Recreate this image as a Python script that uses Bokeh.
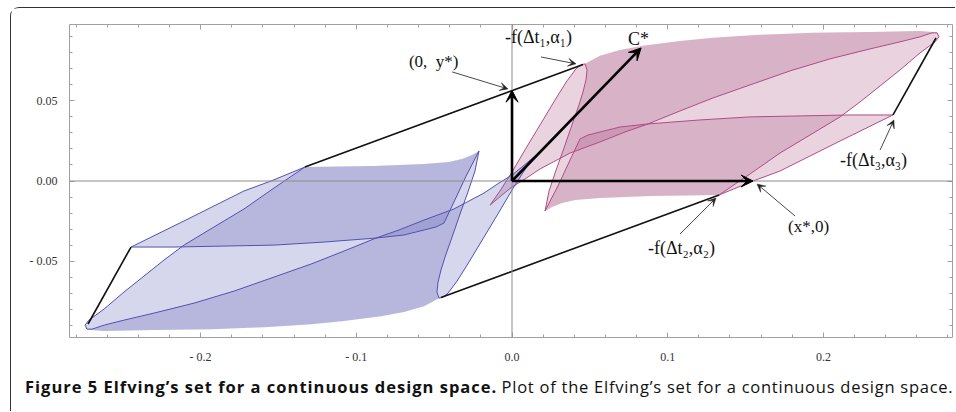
from bokeh.plotting import figure
from bokeh.models import Range1d, FixedTicker, LinearAxis, Label, Arrow, VeeHead, Span, Div
from bokeh.layouts import column
from bokeh.embed import file_html
from bokeh.resources import INLINE

# ---------------- data ----------------
# pink set (-f): small hairpin, outgoing branch T1 -> P1
pa_x = [-0.0141, -0.0077, 0.0000, 0.0083, 0.0180, 0.0276, 0.0353, 0.0411, 0.0443, 0.0469]
pa_y = [-0.0150, -0.0062, 0.0056, 0.0193, 0.0349, 0.0504, 0.0623, 0.0698, 0.0723, 0.0729]
# small hairpin, returning branch P1 -> T2
pb_x = [0.0469, 0.0482, 0.0475, 0.0456, 0.0430, 0.0385, 0.0334, 0.0283, 0.0238, 0.0212]
pb_y = [0.0729, 0.0691, 0.0629, 0.0554, 0.0473, 0.0349, 0.0206, 0.0068, -0.0062, -0.0187]
# big hairpin, outgoing branch T1 -> P3
pu_x = [-0.0141, -0.0064, 0.0000, 0.0083, 0.0180, 0.0373, 0.0565, 0.0726, 0.0873, 0.1079,
        0.1291, 0.1529, 0.1785, 0.2042, 0.2299, 0.2492, 0.2620, 0.2697, 0.2730]
pu_y = [-0.0150, -0.0087, -0.0037, 0.0012, 0.0075, 0.0174, 0.0243, 0.0305, 0.0355, 0.0436,
        0.0517, 0.0598, 0.0685, 0.0760, 0.0822, 0.0866, 0.0897, 0.0922, 0.0922]
# big hairpin, returning branch P3 -> P2
pl_x = [0.2730, 0.2742, 0.2717, 0.2672, 0.2620, 0.2492, 0.2364, 0.2235, 0.2107, 0.1914,
        0.1721, 0.1529, 0.1330]
pl_y = [0.0922, 0.0897, 0.0866, 0.0834, 0.0797, 0.0691, 0.0592, 0.0492, 0.0399, 0.0286,
        0.0174, 0.0044, -0.0087]
# upper envelope P1 -> P3
pt_x = [0.0469, 0.0565, 0.0694, 0.0841, 0.1079, 0.1291, 0.1593, 0.1933, 0.2299, 0.2620, 0.2703]
pt_y = [0.0729, 0.0779, 0.0816, 0.0841, 0.0872, 0.0891, 0.0910, 0.0922, 0.0928, 0.0934, 0.0928]
# lower envelope T2 -> P2
pw_x = [0.0212, 0.0257, 0.0321, 0.0405, 0.0565, 0.0886, 0.1330]
pw_y = [-0.0187, -0.0162, -0.0137, -0.0118, -0.0106, -0.0093, -0.0087]
# edge K -> P4
ph_x = [0.0437, 0.0488, 0.0565, 0.0694, 0.0873, 0.1207, 0.1529, 0.1850, 0.2171, 0.2447]
ph_y = [0.0262, 0.0286, 0.0305, 0.0336, 0.0355, 0.0380, 0.0399, 0.0405, 0.0411, 0.0411]
# edge K -> T2
pk_x = [0.0437, 0.0373, 0.0295, 0.0212]
pk_y = [0.0262, 0.0131, -0.0031, -0.0187]
# edge P4 -> P2
pp_x = [0.2447, 0.2107, 0.1721, 0.1548, 0.1330]
pp_y = [0.0411, 0.0249, 0.0062, 0.0000, -0.0087]

# blue set (+f)
ba_x = [0.0141, 0.0077, 0.0000, -0.0083, -0.0180, -0.0276, -0.0353, -0.0411, -0.0443, -0.0469]
ba_y = [0.0150, 0.0062, -0.0056, -0.0193, -0.0349, -0.0504, -0.0623, -0.0698, -0.0723, -0.0729]
bb_x = [-0.0469, -0.0482, -0.0475, -0.0456, -0.0430, -0.0385, -0.0334, -0.0283, -0.0238, -0.0212]
bb_y = [-0.0729, -0.0691, -0.0629, -0.0554, -0.0473, -0.0349, -0.0206, -0.0068, 0.0062, 0.0187]
bu_x = [0.0141, 0.0064, 0.0000, -0.0083, -0.0180, -0.0373, -0.0565, -0.0726, -0.0873, -0.1079,
        -0.1291, -0.1529, -0.1785, -0.2042, -0.2299, -0.2492, -0.2620, -0.2697, -0.2730]
bu_y = [0.0150, 0.0087, 0.0037, -0.0012, -0.0075, -0.0174, -0.0243, -0.0305, -0.0355, -0.0436,
        -0.0517, -0.0598, -0.0685, -0.0760, -0.0822, -0.0866, -0.0897, -0.0922, -0.0922]
bl_x = [-0.2730, -0.2742, -0.2717, -0.2672, -0.2620, -0.2492, -0.2364, -0.2235, -0.2107, -0.1914,
        -0.1721, -0.1529, -0.1330]
bl_y = [-0.0922, -0.0897, -0.0866, -0.0834, -0.0797, -0.0691, -0.0592, -0.0492, -0.0399, -0.0286,
        -0.0174, -0.0044, 0.0087]
bt_x = [-0.0469, -0.0565, -0.0694, -0.0841, -0.1079, -0.1291, -0.1593, -0.1933, -0.2299, -0.2620, -0.2703]
bt_y = [-0.0729, -0.0779, -0.0816, -0.0841, -0.0872, -0.0891, -0.0910, -0.0922, -0.0928, -0.0934, -0.0928]
bw_x = [-0.0212, -0.0257, -0.0321, -0.0405, -0.0565, -0.0886, -0.1330]
bw_y = [0.0187, 0.0162, 0.0137, 0.0118, 0.0106, 0.0093, 0.0087]
bh_x = [-0.0437, -0.0488, -0.0565, -0.0694, -0.0873, -0.1207, -0.1529, -0.1850, -0.2171, -0.2447]
bh_y = [-0.0262, -0.0286, -0.0305, -0.0336, -0.0355, -0.0380, -0.0399, -0.0405, -0.0411, -0.0411]
bk_x = [-0.0437, -0.0373, -0.0295, -0.0212]
bk_y = [-0.0262, -0.0131, 0.0031, 0.0187]
bp_x = [-0.2447, -0.2107, -0.1721, -0.1548, -0.1330]
bp_y = [-0.0411, -0.0249, -0.0062, 0.0000, 0.0087]

# black support lines
sup_x0 = [-0.1330, -0.0456, 0.2447, -0.2447]
sup_y0 = [0.0087, -0.0725, 0.0411, -0.0411]
sup_x1 = [0.0456, 0.1330, 0.2723, -0.2723]
sup_y1 = [0.0725, -0.0087, 0.0890, -0.0890]

# vectors from the origin: (0, y*), (x*, 0), C*
vec_x = [0.0, 0.1548, 0.0829]
vec_y = [0.0565, 0.0, 0.0828]

# annotations: label text, label left edge / vertical centre, pointer start, pointer end
ann_text = ["(0,\u2002y*)", "-f(\u0394t\u2081,\u03b1\u2081)", "-f(\u0394t\u2083,\u03b1\u2083)",
            "(x*,0)", "-f(\u0394t\u2082,\u03b1\u2082)", "C*"]
ann_size = ["17px", "18px", "18px", "17px", "18px", "18px"]
ann_x = [-0.0662, -0.0045, 0.2107, 0.1773, 0.0873, 0.0745]
ann_y = [0.0741, 0.0897, 0.0131, -0.0286, -0.0417, 0.0885]
ptr_x0 = [-0.0385, 0.0186, 0.2364, 0.1818, 0.1079]
ptr_y0 = [0.0679, 0.0772, 0.0193, -0.0218, -0.0330]
ptr_x1 = [-0.0026, 0.0411, 0.2453, 0.1574, 0.1310]
ptr_y1 = [0.0573, 0.0729, 0.0380, -0.0019, -0.0106]

x_major = [-0.2, -0.1, 0.0, 0.1, 0.2]
x_labels = ["- 0.2", "- 0.1", "0.0", "0.1", "0.2"]
x_minor = [-0.28, -0.26, -0.24, -0.22, -0.2, -0.18, -0.16, -0.14, -0.12, -0.1, -0.08, -0.06,
           -0.04, -0.02, 0.0, 0.02, 0.04, 0.06, 0.08, 0.1, 0.12, 0.14, 0.16, 0.18, 0.2, 0.22,
           0.24, 0.26, 0.28]
y_major = [-0.05, 0.0, 0.05]
y_labels = ["- 0.05", "0.00", "0.05"]
y_minor = [-0.09, -0.08, -0.07, -0.06, -0.05, -0.04, -0.03, -0.02, -0.01, 0.0, 0.01, 0.02,
           0.03, 0.04, 0.05, 0.06, 0.07, 0.08, 0.09]

caption_bold = "Figure 5 Elfving\u2019s set for a continuous design space."
caption_rest = "Plot of the Elfving\u2019s set for a continuous design space."

# ---------------- figure ----------------
p = figure(width=944, height=364, output_backend="svg", toolbar_location=None,
           x_range=Range1d(-0.2842, 0.2829), y_range=Range1d(-0.0974, 0.0974),
           min_border_left=58, min_border_right=3, min_border_top=16, min_border_bottom=35)
p.grid.visible = False
p.outline_line_color = "#a0a0a0"
p.outline_line_width = 1
p.background_fill_color = "white"
p.border_fill_color = "white"

xt = FixedTicker(ticks=x_major, minor_ticks=x_minor)
yt = FixedTicker(ticks=y_major, minor_ticks=y_minor)

def style_axis(ax, ticker, labels=None):
    ax.ticker = ticker
    ax.axis_line_color = None
    ax.major_tick_in = 5
    ax.major_tick_out = 0
    ax.minor_tick_in = 3
    ax.minor_tick_out = 0
    ax.major_tick_line_color = "#a0a0a0"
    ax.minor_tick_line_color = "#a0a0a0"
    if labels is None:
        ax.major_label_text_font_size = "1px"
        ax.major_label_text_color = None
        ax.major_label_standoff = 0
    else:
        ax.major_label_overrides = labels
        ax.major_label_text_font = "Liberation Serif"
        ax.major_label_text_font_size = "12px"
        ax.major_label_text_color = "#333333"
        ax.major_label_standoff = 12

style_axis(p.xaxis[0], xt, dict(zip(x_major, x_labels)))
style_axis(p.yaxis[0], yt, dict(zip(y_major, y_labels)))
top_ax = LinearAxis()
right_ax = LinearAxis()
style_axis(top_ax, xt)
style_axis(right_ax, yt)
p.add_layout(top_ax, "above")
p.add_layout(right_ax, "right")

PINK_FILL, PINK_LINE = "#a84e80", "#b04c86"
BLUE_FILL, BLUE_LINE = "#5a5ab2", "#5252b0"
FA = 0.25

def draw_set(a_x, a_y, b_x, b_y, u_x, u_y, l_x, l_y, t_x, t_y, w_x, w_y,
             h_x, h_y, k_x, k_y, q_x, q_y, fill, line):
    # sheet swept by outgoing branches
    p.patch(a_x + t_x + u_x[::-1], a_y + t_y + u_y[::-1],
            fill_color=fill, fill_alpha=FA, line_color=None)
    # sheet swept by returning branches
    p.patch(t_x + l_x + w_x[::-1] + b_x[::-1], t_y + l_y + w_y[::-1] + b_y[::-1],
            fill_color=fill, fill_alpha=FA, line_color=None)
    # folded flap
    p.patch(h_x + q_x + w_x[::-1] + k_x[::-1], h_y + q_y + w_y[::-1] + k_y[::-1],
            fill_color=fill, fill_alpha=FA, line_color=None)
    for xs, ys in [(a_x + b_x, a_y + b_y), (u_x + l_x, u_y + l_y),
                   (h_x, h_y), (k_x, k_y), (q_x, q_y)]:
        p.line(xs, ys, line_color=line, line_width=1)

draw_set(pa_x, pa_y, pb_x, pb_y, pu_x, pu_y, pl_x, pl_y, pt_x, pt_y, pw_x, pw_y,
         ph_x, ph_y, pk_x, pk_y, pp_x, pp_y, PINK_FILL, PINK_LINE)
draw_set(ba_x, ba_y, bb_x, bb_y, bu_x, bu_y, bl_x, bl_y, bt_x, bt_y, bw_x, bw_y,
         bh_x, bh_y, bk_x, bk_y, bp_x, bp_y, BLUE_FILL, BLUE_LINE)

# coordinate axes through the origin
p.add_layout(Span(location=0, dimension="width", line_color="#8c8c8c", line_width=1))
p.add_layout(Span(location=0, dimension="height", line_color="#8c8c8c", line_width=1))

# support lines
p.segment(sup_x0, sup_y0, sup_x1, sup_y1, line_color="#111111", line_width=1.6)

# thick vectors from the origin
for vx, vy in zip(vec_x, vec_y):
    p.add_layout(Arrow(end=VeeHead(size=12, fill_color="black", line_color="black"),
                       x_start=0, y_start=0, x_end=vx, y_end=vy,
                       line_color="black", line_width=2.6))

# annotation pointers
for i in range(len(ptr_x0)):
    p.add_layout(Arrow(end=VeeHead(size=8, fill_color="#222222", line_color="#222222", line_width=0.5),
                       x_start=ptr_x0[i], y_start=ptr_y0[i], x_end=ptr_x1[i], y_end=ptr_y1[i],
                       line_color="#333333", line_width=0.9))
# annotation labels
for i in range(len(ann_text)):
    p.add_layout(Label(x=ann_x[i], y=ann_y[i], text=ann_text[i], text_align="left",
                       text_baseline="middle", text_font="Liberation Serif",
                       text_font_size=ann_size[i], text_color="#111111"))

# caption below the plot
cap = Div(text=('<b style="letter-spacing:1.0px">' + caption_bold + '</b> '
                '<span style="letter-spacing:0.75px">' + caption_rest + '</span>'),
          width=930, height=36, margin=(3, 0, 0, 14),
          styles={"font-family": "'Open Sans', sans-serif", "font-size": "16.5px",
                  "color": "#111111", "white-space": "nowrap"})

layout = column(p, cap, margin=(7, 0, 0, 10),
                styles={"border-top": "1.5px solid #333333", "border-left": "1.5px solid #333333",
                        "border-top-left-radius": "9px", "background": "white"})

open("out.html", "w").write(file_html(layout, INLINE))
